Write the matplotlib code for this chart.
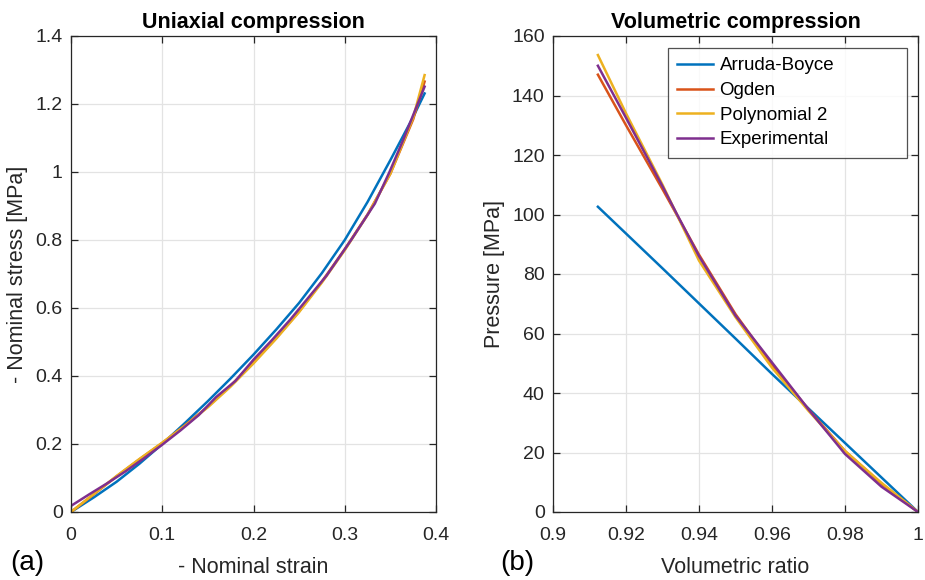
import matplotlib
matplotlib.use("Agg")
import matplotlib.pyplot as plt
from matplotlib.ticker import FixedLocator, FixedFormatter

plt.rcParams['font.family'] = ['Liberation Sans', 'DejaVu Sans']

# ---- Uniaxial compression data ----
strain_model = [0.0, 0.025, 0.05, 0.075, 0.1, 0.125, 0.15, 0.175, 0.2,
                0.225, 0.25, 0.275, 0.3, 0.325, 0.35, 0.375, 0.3875]
stress_arruda = [0.0, 0.043, 0.089, 0.142, 0.20, 0.262, 0.326, 0.393, 0.463,
                 0.537, 0.615, 0.703, 0.80, 0.912, 1.035, 1.162, 1.231]
stress_ogden = [0.0, 0.052, 0.105, 0.155, 0.203, 0.255, 0.31, 0.372, 0.44,
                0.512, 0.59, 0.678, 0.773, 0.875, 0.995, 1.155, 1.266]
stress_poly2 = [0.0, 0.053, 0.106, 0.156, 0.204, 0.254, 0.308, 0.369, 0.437,
                0.51, 0.588, 0.675, 0.77, 0.874, 0.995, 1.16, 1.285]
strain_exp = [0.0, 0.02, 0.04, 0.06, 0.08, 0.1, 0.12, 0.14, 0.159, 0.18,
              0.2, 0.22, 0.24, 0.26, 0.28, 0.307, 0.333, 0.349, 0.364, 0.3875]
stress_exp = [0.018, 0.052, 0.085, 0.12, 0.158, 0.198, 0.24, 0.285, 0.338,
              0.385, 0.448, 0.505, 0.565, 0.63, 0.695, 0.80, 0.907, 1.0,
              1.094, 1.251]

# ---- Volumetric compression data ----
vol_model = [0.9123, 0.92, 0.93, 0.94, 0.95, 0.96, 0.97, 0.98, 0.99, 1.0]
p_arruda = [102.6, 93.6, 81.9, 70.1, 58.3, 46.4, 34.8, 23.2, 11.6, 0.0]
p_ogden = [147.0, 130.0, 108.5, 86.5, 66.5, 49.5, 34.5, 20.5, 9.5, 0.0]
p_poly2 = [153.6, 134.0, 110.0, 84.5, 65.5, 48.5, 34.0, 20.5, 9.8, 0.0]
vol_exp = [0.9123, 0.92, 0.93, 0.934, 0.94, 0.95, 0.9608, 0.97, 0.98, 0.99, 1.0]
p_exp = [150.0, 132.5, 109.5, 100.0, 86.0, 66.0, 49.0, 34.5, 19.5, 8.5, 0.0]

series_names = ['Arruda-Boyce', 'Ogden', 'Polynomial 2', 'Experimental']
colors = ['#0072BD', '#D95319', '#EDB120', '#7E2F8E']

W, H = 925, 580
fig = plt.figure(figsize=(W / 100, H / 100), dpi=100)
ax1 = fig.add_axes([71 / W, (H - 512) / H, (436 - 71) / W, (512 - 36) / H])
ax2 = fig.add_axes([553 / W, (H - 512) / H, (918 - 553) / W, (512 - 36) / H])

txt_col = '#262626'
lw = 1.8
tick_fs = 14
label_fs = 15.5
title_fs = 15.5


def style(ax):
    ax.grid(True, color='#e3e3e3', linewidth=0.9)
    ax.set_axisbelow(True)
    for s in ax.spines.values():
        s.set_color(txt_col)
        s.set_linewidth(0.9)
    ax.tick_params(direction='in', length=5, width=0.9, colors=txt_col,
                   labelsize=tick_fs, top=True, right=True)
    ax.tick_params(axis='x', pad=11)
    ax.tick_params(axis='y', pad=6)


# left panel
ax1.plot(strain_model, stress_arruda, color=colors[0], lw=lw)
ax1.plot(strain_model, stress_ogden, color=colors[1], lw=lw)
ax1.plot(strain_model, stress_poly2, color=colors[2], lw=lw)
ax1.plot(strain_exp, stress_exp, color=colors[3], lw=lw)
ax1.set_xlim(0, 0.4)
ax1.set_ylim(0, 1.4)
x1t = [0, 0.1, 0.2, 0.3, 0.4]
y1t = [0, 0.2, 0.4, 0.6, 0.8, 1.0, 1.2, 1.4]
ax1.xaxis.set_major_locator(FixedLocator(x1t))
ax1.xaxis.set_major_formatter(FixedFormatter(['0', '0.1', '0.2', '0.3', '0.4']))
ax1.yaxis.set_major_locator(FixedLocator(y1t))
ax1.yaxis.set_major_formatter(FixedFormatter(['0', '0.2', '0.4', '0.6', '0.8', '1', '1.2', '1.4']))
style(ax1)
ax1.set_title('Uniaxial compression', fontsize=title_fs, fontweight='bold', color='black', pad=6)
ax1.set_xlabel('- Nominal strain', fontsize=label_fs, color=txt_col, labelpad=9)
ax1.set_ylabel('- Nominal stress [MPa]', fontsize=label_fs, color=txt_col, labelpad=5)

# right panel
ax2.plot(vol_model, p_arruda, color=colors[0], lw=lw, label=series_names[0])
ax2.plot(vol_model, p_ogden, color=colors[1], lw=lw, label=series_names[1])
ax2.plot(vol_model, p_poly2, color=colors[2], lw=lw, label=series_names[2])
ax2.plot(vol_exp, p_exp, color=colors[3], lw=lw, label=series_names[3])
ax2.set_xlim(0.9, 1.0)
ax2.set_ylim(0, 160)
x2t = [0.9, 0.92, 0.94, 0.96, 0.98, 1.0]
y2t = [0, 20, 40, 60, 80, 100, 120, 140, 160]
ax2.xaxis.set_major_locator(FixedLocator(x2t))
ax2.xaxis.set_major_formatter(FixedFormatter(['0.9', '0.92', '0.94', '0.96', '0.98', '1']))
ax2.yaxis.set_major_locator(FixedLocator(y2t))
ax2.yaxis.set_major_formatter(FixedFormatter([str(v) for v in y2t]))
style(ax2)
ax2.set_title('Volumetric compression', fontsize=title_fs, fontweight='bold', color='black', pad=6)
ax2.set_xlabel('Volumetric ratio', fontsize=label_fs, color=txt_col, labelpad=9)
ax2.set_ylabel('Pressure [MPa]', fontsize=label_fs, color=txt_col, labelpad=5)
leg = ax2.legend(loc='upper left', fontsize=13.5, frameon=True, fancybox=False,
                 bbox_to_anchor=(668 / W, 1 - 156 / H, (907 - 668) / W, 108 / H),
                 bbox_transform=fig.transFigure, mode='expand',
                 borderaxespad=0.0, handlelength=1.9, handletextpad=0.35,
                 labelspacing=0.4, borderpad=0.5)
leg.get_frame().set_edgecolor(txt_col)
leg.get_frame().set_linewidth(0.9)
for t in leg.get_texts():
    t.set_color('black')

fig.text(10 / W, 1 - 563 / H, '(a)', fontsize=20, va='center', ha='left')
fig.text(500 / W, 1 - 563 / H, '(b)', fontsize=20, va='center', ha='left')

fig.savefig('out.png', dpi=100)
